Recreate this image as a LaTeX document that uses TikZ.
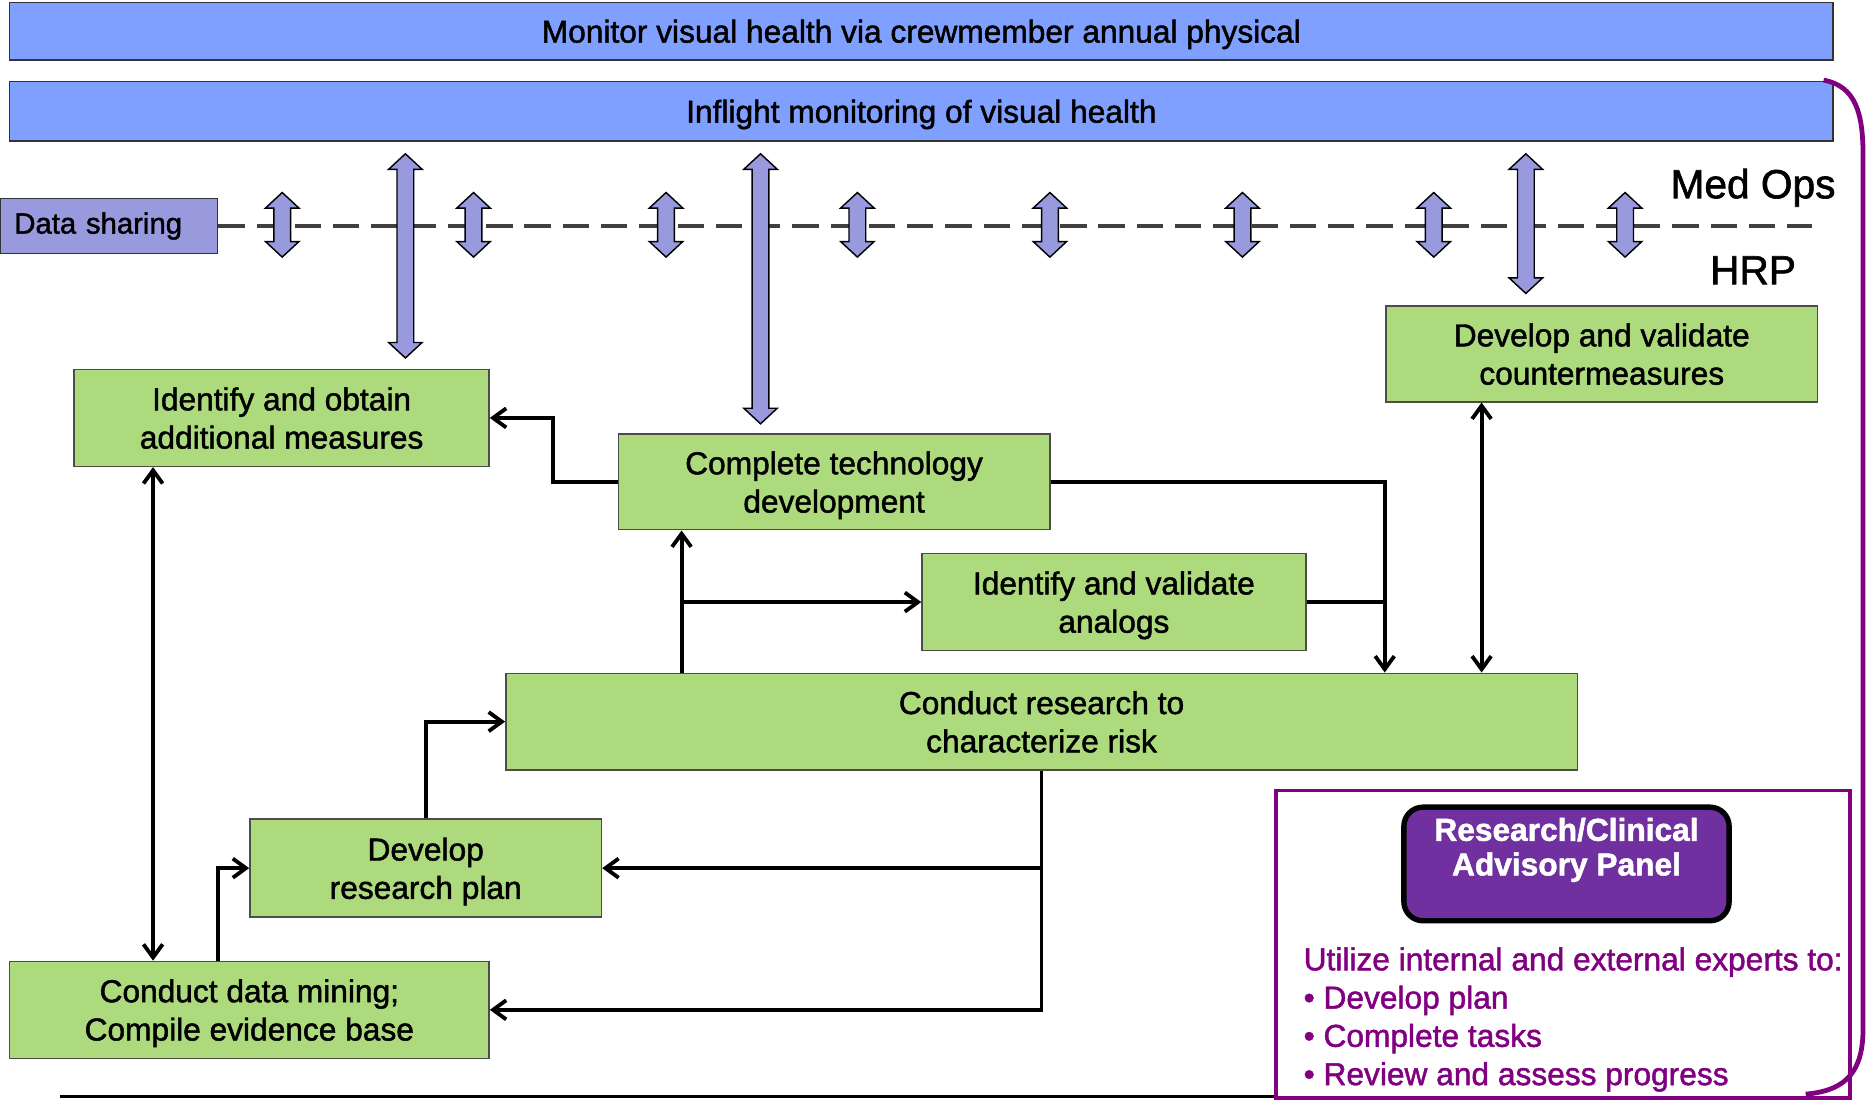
\documentclass[tikz,border=0pt]{standalone}
\usepackage{fontspec}
\setmainfont{Liberation Sans}[FakeBold=1.5]
\usetikzlibrary{positioning, arrows.meta, calc}

\definecolor{barblue}{RGB}{127,160,255}
\definecolor{lav}{RGB}{153,153,221}
\definecolor{boxgreen}{RGB}{172,218,124}
\definecolor{panelpurple}{RGB}{112,48,160}
\definecolor{linepurple}{RGB}{128,0,128}

% vertical two-headed block arrow from #1 (top tip) to #2 (bottom tip)
\newcommand{\blockarrow}[2]{%
  \draw[blockarr] let \p1=#1, \p2=#2 in
    (\x1,\y1) -- (\x1+14pt,\y1-13pt) -- (\x1+7pt,\y1-13pt) -- (\x1+7pt,\y2+13pt) --
    (\x1+14pt,\y2+13pt) -- (\x1,\y2) -- (\x1-14pt,\y2+13pt) -- (\x1-7pt,\y2+13pt) --
    (\x1-7pt,\y1-13pt) -- (\x1-14pt,\y1-13pt) -- cycle;}

\begin{document}
\begin{tikzpicture}[
    x=1pt, y=-1pt,
    every node/.style={inner sep=0pt, font=\fontsize{26.5}{32}\selectfont},
    bar/.style={draw=black!80, fill=barblue, line width=1.2pt, minimum width=1525pt, text depth=0pt},
    stage/.style={draw=black!70, fill=boxgreen, line width=1.2pt, align=center, text depth=0pt},
    blockarr/.style={draw=black, fill=lav, line width=1.2pt},
    flow/.style={draw=black, line width=3.2pt},
    >={Straight Barb[length=11pt, width=16pt]}
]
\useasboundingbox (0,0) rectangle (1568,920);

% Top bars
\node[bar, minimum height=48pt] (annual) at (770.5,26) {Monitor visual health via crewmember annual physical};
\node[bar, minimum height=50pt] (inflight) at (770.5,93) {Inflight monitoring of visual health};

% Data sharing line
\node[draw=black!80, fill=lav, line width=1.2pt, text width=158pt, inner xsep=12pt,
      minimum height=46pt, align=left, font=\fontsize{24.5}{30}\selectfont] (share) at (91,189) {Data sharing};
\coordinate (dashend) at (1515,189);
\draw[black!75, line width=3pt, dash pattern=on 22pt off 10pt] (share.east) -- (dashend);
\node[font=\fontsize{34}{40}\selectfont] (medops) at (1466,157) {Med Ops};
\node[font=\fontsize{34}{40}\selectfont] (hrp) at (1466,226) {HRP};

% Stages
\node[stage, minimum width=347pt, minimum height=81pt] (meas) at (235.5,349.5) {Identify and obtain\\additional measures};
\node[stage, minimum width=361pt, minimum height=80pt] (tech) at (697.5,403) {Complete technology\\development};
\node[stage, minimum width=361pt, minimum height=80pt] (cm) at (1339.5,296) {Develop and validate\\countermeasures};
\node[stage, minimum width=321pt, minimum height=81pt] (analog) at (931.5,503.5) {Identify and validate\\analogs};
\node[stage, minimum width=896pt, minimum height=81pt] (research) at (871,603.5) {Conduct research to\\characterize risk};
\node[stage, minimum width=294pt, minimum height=82pt] (plan) at (356,726) {Develop\\research plan};
\node[stage, minimum width=401pt, minimum height=81pt] (mining) at (208.5,844.5) {Conduct data mining;\\Compile evidence base};

% Data sharing arrows
\foreach \ax in {236,396,557,717,878,1039,1199,1359}
    \blockarrow{(\ax,161)}{(\ax,215)};
\coordinate (a1) at (339,0);
\coordinate (a2) at (636,0);
\coordinate (a3) at (1276,0);
\blockarrow{($(inflight.south -| a1)+(0,10)$)}{($(meas.north -| a1)+(0,-9)$)}
\blockarrow{($(inflight.south -| a2)+(0,10)$)}{($(tech.north -| a2)+(0,-8)$)}
\blockarrow{($(inflight.south -| a3)+(0,10)$)}{($(cm.north -| a3)+(0,-10)$)}

% Flow connectors
\coordinate (merge) at (1158,0);
\coordinate (split) at (570,503);
\coordinate (cmlink) at (1239,0);
\coordinate (leftlink) at (128,0);
\coordinate (minelink) at (182,0);
\draw[flow, ->] (tech.west) -- ++(-54,0) |- (meas.east);
\draw[flow, ->] (tech.east) -| (merge |- research.north);
\draw[flow] (analog.east) -- (merge |- analog.east);
\draw[flow, ->] (research.north -| split) -- (tech.south -| split);
\draw[flow, ->] (split |- analog.west) -- (analog.west);
\draw[flow, <->] (cm.south -| cmlink) -- (research.north -| cmlink);
\draw[flow, <->] (meas.south -| leftlink) -- (mining.north -| leftlink);
\draw[flow, ->] (mining.north -| minelink) |- (plan.west);
\draw[flow, ->] (plan.north) |- (research.west);
\draw[flow, ->] (research.south) |- (mining.east);
\draw[flow, ->] (research.south |- plan.east) -- (plan.east);

% Advisory panel
\node[draw=linepurple, line width=3pt, minimum width=480pt, minimum height=257pt] (panelframe) at (1307,789.5) {};
\node[draw=black, line width=4.5pt, fill=panelpurple, rounded corners=16pt, minimum width=272pt,
      minimum height=95pt, text=white, align=center, font=\bfseries\fontsize{26.5}{29}\selectfont]
      (panel) at (1310,722.5) {Research/Clinical\\Advisory Panel\\\mbox{}};
\node[text=linepurple, align=left, anchor=north west] (experts) at (1090,792)
      {Utilize internal and external experts to:\\• Develop plan\\• Complete tasks\\• Review and assess progress};

% Bracket and base line
\draw[linepurple, line width=4pt] (1525,67) .. controls (1552,72) and (1558,95) .. (1558,130)
    -- (1558,860) .. controls (1558,895) and (1545,912) .. (1510,915);
\coordinate (baseline) at (50,917);
\draw[black, line width=3pt] (baseline) -- (baseline -| panelframe.west);

\end{tikzpicture}
\end{document}
